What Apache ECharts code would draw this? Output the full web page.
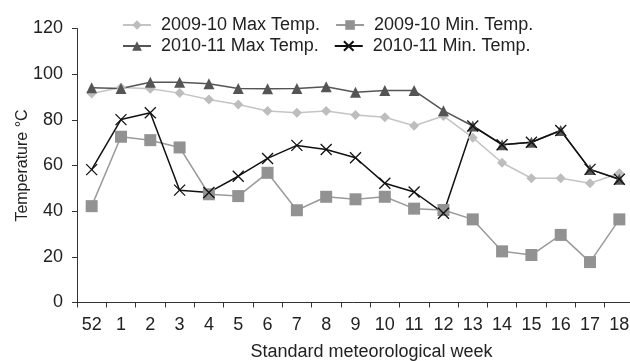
<!DOCTYPE html>
<html>
<head>
<meta charset="utf-8">
<script src="https://cdn.jsdelivr.net/npm/echarts@6/dist/echarts.min.js"></script>
<style>
	html, body { margin: 0; padding: 0; background: #fff; }
	#chart { width: 630px; height: 361px; }
</style>
</head>
<body>
<div id="chart"></div>
<script>
var weeks = ['52', '1', '2', '3', '4', '5', '6', '7', '8', '9', '10', '11', '12', '13', '14', '15', '16', '17', '18'];
var yTicks = [0, 20, 40, 60, 80, 100, 120];

var max0910 = [91.5, 94.2, 93.6, 91.7, 88.9, 86.7, 83.9, 83.1, 83.9, 82.1, 81.1, 77.4, 81.7, 72.2, 61.2, 54.4, 54.4, 52.2, 56.6];
var min0910 = [42.2, 72.6, 71.1, 67.9, 47.4, 46.6, 56.8, 40.4, 46.3, 45.2, 46.3, 41.1, 40.5, 36.4, 22.4, 20.8, 29.6, 17.7, 36.4];
var max1011 = [94.0, 93.7, 96.5, 96.5, 95.8, 93.7, 93.6, 93.7, 94.5, 92.1, 92.8, 92.8, 84.0, 77.3, 69.1, 70.2, 75.3, 58.3, 54.0];
var min1011 = [58.2, 80.1, 83.1, 49.2, 48.2, 55.3, 63.1, 68.8, 67.0, 63.4, 52.2, 48.4, 39.1, 77.3, 69.1, 70.2, 75.3, 58.3, 54.0];

var font = "'Liberation Sans', Arial, sans-serif";
var crossPath = 'path://M0,0L10,10M10,0L0,10';

var myChart = echarts.init(document.getElementById('chart'));
var option = {
	animation: false,
	textStyle: { fontFamily: font },
	grid: {
		left: 77,
		right: -4,
		top: 28.5,
		bottom: 58.5,
		outerBoundsMode: 'none'
	},
	legend: [{
		left: 117,
		top: 11,
		itemWidth: 28,
		itemHeight: 12,
		itemGap: 15,
		textStyle: { fontSize: 18, color: '#222', fontFamily: font, padding: [0, 0, 0, 5] },
		data: ['2009-10 Max Temp.', '2009-10 Min. Temp.']
	}, {
		left: 117,
		top: 32,
		itemWidth: 28,
		itemHeight: 12,
		itemGap: 15,
		textStyle: { fontSize: 18, color: '#222', fontFamily: font, padding: [0, 0, 0, 5] },
		data: ['2010-11 Max Temp.', '2010-11 Min. Temp.']
	}],
	xAxis: {
		type: 'category',
		data: weeks,
		name: 'Standard meteorological week',
		nameLocation: 'middle',
		nameGap: 41,
		nameTextStyle: { fontSize: 18, color: '#222', padding: [0, 0, 0, 32] },
		axisLine: { lineStyle: { color: '#333', width: 1 } },
		axisTick: { show: true, length: 5, lineStyle: { color: '#333' } },
		axisLabel: { fontSize: 18, color: '#222', margin: 14, interval: 0 }
	},
	yAxis: {
		type: 'value',
		min: yTicks[0],
		max: yTicks[yTicks.length - 1],
		interval: 20,
		name: 'Temperature °C',
		nameLocation: 'middle',
		nameGap: 46,
		nameMoveOverlap: false,
		nameTextStyle: { fontSize: 16, color: '#222' },
		axisLine: { show: true, lineStyle: { color: '#333', width: 1 } },
		axisTick: { show: true, length: 5, lineStyle: { color: '#333' } },
		axisLabel: { fontSize: 18, color: '#222', margin: 14 },
		splitLine: { show: false }
	},
	series: [{
		name: '2009-10 Max Temp.',
		type: 'line',
		data: max0910,
		symbol: 'diamond',
		symbolSize: 10,
		itemStyle: { color: '#bdbdbd' },
		lineStyle: { color: '#c4c4c4', width: 1.5 }
	}, {
		name: '2009-10 Min. Temp.',
		type: 'line',
		data: min0910,
		symbol: 'rect',
		symbolSize: 12,
		itemStyle: { color: '#929292' },
		lineStyle: { color: '#9a9a9a', width: 1.5 }
	}, {
		name: '2010-11 Max Temp.',
		type: 'line',
		data: max1011,
		symbol: 'triangle',
		symbolSize: 11,
		itemStyle: { color: '#555' },
		lineStyle: { color: '#555', width: 1.5 }
	}, {
		name: '2010-11 Min. Temp.',
		type: 'line',
		data: min1011,
		symbol: crossPath,
		symbolSize: 11,
		itemStyle: { color: 'none', borderColor: '#111', borderWidth: 1.3 },
		lineStyle: { color: '#111', width: 1.5 }
	}]
};
myChart.setOption(option);
</script>
</body>
</html>
